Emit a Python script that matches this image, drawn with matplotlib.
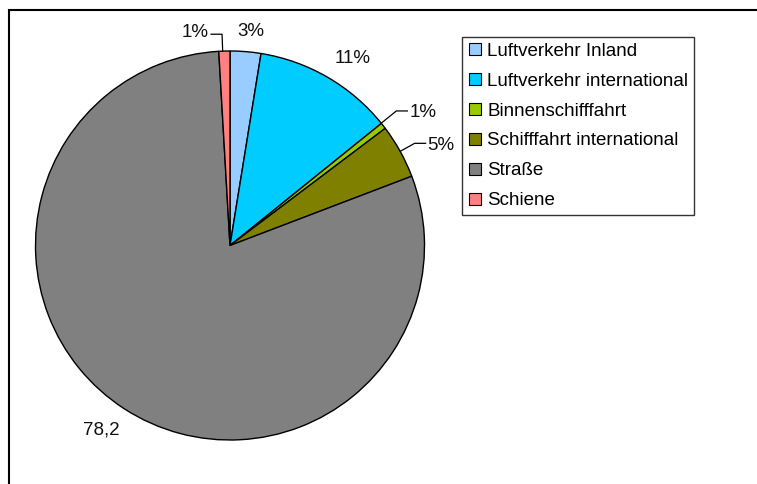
import numpy as np
import matplotlib
matplotlib.use("Agg")
import matplotlib.pyplot as plt
from matplotlib.lines import Line2D
from matplotlib.patches import Rectangle

plt.rcParams["font.family"] = ["Liberation Sans", "DejaVu Sans"]

# data
categories = ["Luftverkehr Inland", "Luftverkehr international", "Binnenschifffahrt",
              "Schifffahrt international", "Straße", "Schiene"]
values = [2.5, 11.4, 0.5, 4.4, 78.2, 0.9]
labels = ["3%", "11%", "1%", "5%", "78,2", "1%"]
colors = ["#99CCFF", "#00CCFF", "#99CC00", "#808000", "#808080", "#FF8080"]

# label placement: (radius, angle offset in deg, leader line?, text y shift px)
label_pos = [(1.105, -1, False, 0), (1.15, -3, False, 0), (1.10, 1, True, -2),
             (1.085, 0, True, -2), (1.155, -2, False, 0), (1.087, 0.5, True, 2)]

FS = 13.5
W, H = 757, 484
fig = plt.figure(figsize=(W / 100, H / 100), dpi=100)

# pie axes: centre (230, 245.5) px, radius 194.5 px
cx, cy, R = 230, 245.5, 194.5
ax = fig.add_axes([(cx - R) / W, (H - cy - R) / H, 2 * R / W, 2 * R / H])

wedges, _ = ax.pie(values, colors=colors, startangle=90, counterclock=False,
                   radius=1, wedgeprops=dict(edgecolor="black", linewidth=1.0))
ax.set_xlim(-1, 1)
ax.set_ylim(-1, 1)
ax.axis("off")
for w in wedges:
    w.set_clip_on(False)

px = 1.0 / R  # one pixel in data units
for w, lab, (r, dth, leader, dy) in zip(wedges, labels, label_pos):
    mid = np.deg2rad((w.theta1 + w.theta2) / 2 + dth)
    if leader:
        x0, y0 = np.cos(mid), np.sin(mid)
        x1, y1 = r * np.cos(mid), r * np.sin(mid)
        side = 1 if x1 > 0 else -1
        x2 = x1 + side * 11 * px
        ax.plot([x0, x1, x2], [y0, y1, y1], color="black", lw=0.9,
                clip_on=False, solid_joinstyle="miter")
        ax.text(x2 + side * 2 * px, y1 + dy * px, lab, fontsize=FS,
                ha="left" if side > 0 else "right", va="center", color="#111111")
    else:
        ax.text(r * np.cos(mid), r * np.sin(mid) + dy * px, lab, fontsize=FS,
                ha="center", va="center", color="#111111")

handles = [Line2D([], [], marker="s", linestyle="none", markersize=8,
                  markerfacecolor=c, markeredgecolor="black", markeredgewidth=0.8)
           for c in colors]
leg = fig.legend(handles, categories, loc="upper left",
                 bbox_to_anchor=(462 / W, 1 - 37 / H), fontsize=FS,
                 frameon=True, fancybox=False, edgecolor="black",
                 borderpad=0.3, labelspacing=0.68, handlelength=0.75,
                 handletextpad=0.3, borderaxespad=0)
leg.get_frame().set_linewidth(1.0)

# outer chart frame (right/bottom sides fall outside the image)
fig.patches.append(Rectangle((8.5 / W, -0.1), 1.2, 1 - 9.5 / H + 0.1,
                             transform=fig.transFigure, fill=False,
                             edgecolor="black", linewidth=1.5))

fig.savefig("out.png", dpi=100)
